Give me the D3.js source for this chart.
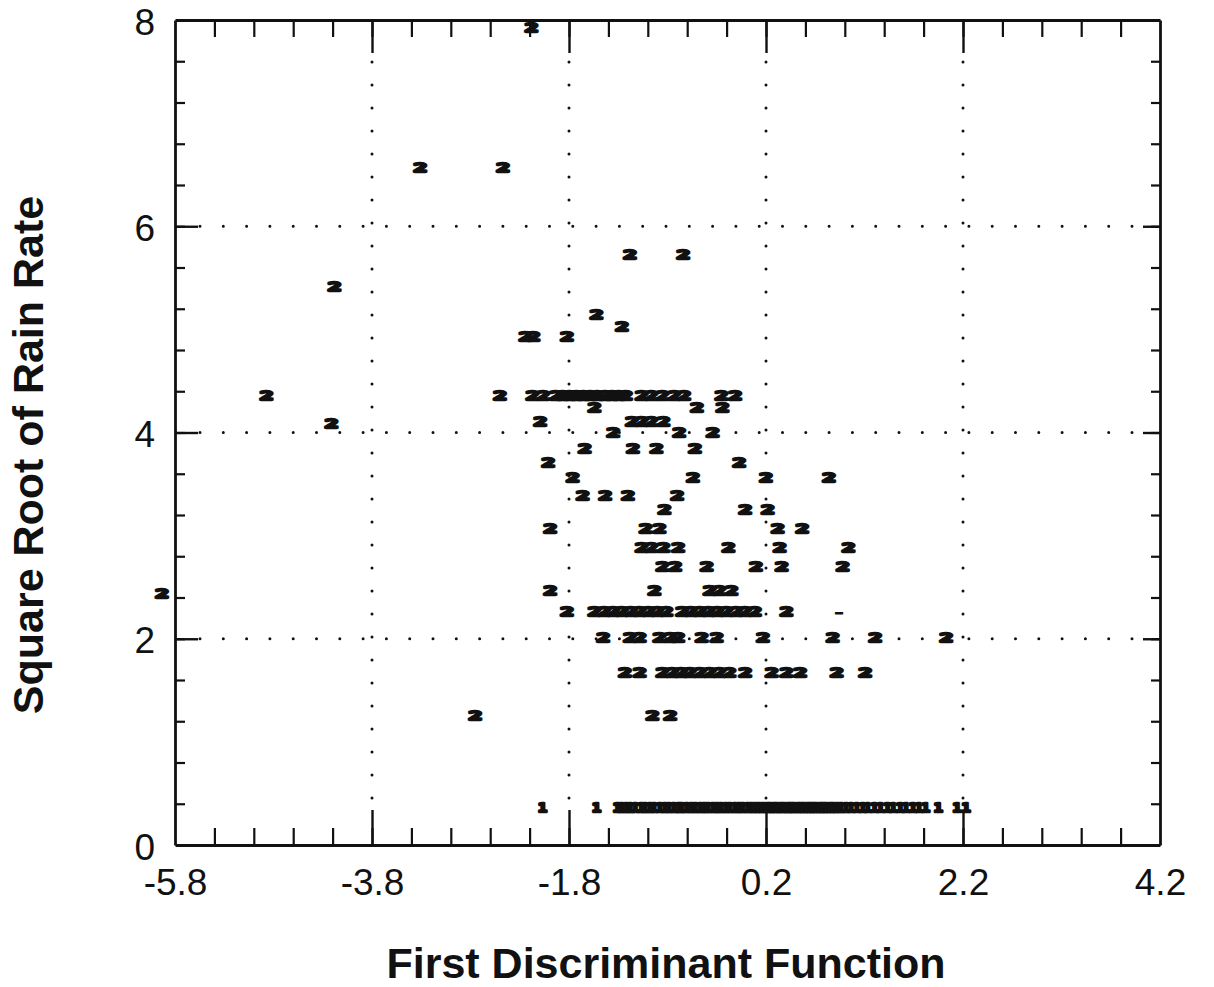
<!DOCTYPE html>
<html>
<head>
<meta charset="utf-8">
<script src="https://cdn.jsdelivr.net/npm/d3@7"></script>
<style>
  html, body { margin: 0; padding: 0; background: #fff; }
  svg { display: block; }
</style>
</head>
<body>
<svg id="chart" width="1214" height="987"></svg>
<script>
// ---------------- data ----------------
const xTickValues = [-5.8, -3.8, -1.8, 0.2, 2.2, 4.2];
const xTickLabels = ["-5.8", "-3.8", "-1.8", "0.2", "2.2", "4.2"];
const yTickValues = [0, 2, 4, 6, 8];
const yTickLabels = ["0", "2", "4", "6", "8"];
const xGridValues = [-3.8, -1.8, 0.2, 2.2];
const yGridValues = [2, 4, 6];
const xTitle = "First Discriminant Function";
const yTitle = "Square Root of Rain Rate";

// group "2" points: [first discriminant, sqrt rain rate]
const group2 = [
  [-2.18, 7.93],
  [-3.31, 6.57], [-2.47, 6.57],
  [-1.18, 5.73], [-0.64, 5.73],
  [-4.18, 5.42],
  [-1.52, 5.14],
  [-1.26, 5.03],
  [-2.24, 4.93], [-2.16, 4.93], [-1.82, 4.93],
  [-4.87, 4.36], [-2.50, 4.36], [-2.17, 4.36], [-2.06, 4.36], [-1.93, 4.36], [-1.86, 4.36],
  [-1.79, 4.36], [-1.72, 4.36], [-1.65, 4.36], [-1.58, 4.36], [-1.51, 4.36], [-1.43, 4.36],
  [-1.36, 4.36], [-1.29, 4.36], [-1.22, 4.36], [-1.06, 4.36], [-0.96, 4.36], [-0.85, 4.36],
  [-0.73, 4.36], [-0.63, 4.36], [-0.25, 4.36], [-0.11, 4.36],
  [-1.54, 4.24], [-0.50, 4.24], [-0.24, 4.24],
  [-2.09, 4.11], [-1.16, 4.11], [-1.06, 4.11], [-0.96, 4.11], [-0.84, 4.11],
  [-4.21, 4.09],
  [-1.35, 4.00], [-0.68, 4.00], [-0.34, 4.00],
  [-1.64, 3.85], [-1.15, 3.85], [-0.91, 3.85], [-0.52, 3.85],
  [-2.01, 3.71], [-0.07, 3.71],
  [-1.76, 3.56], [-0.54, 3.56], [0.20, 3.56], [0.84, 3.56],
  [-1.66, 3.39], [-1.43, 3.39], [-1.20, 3.39], [-0.70, 3.39],
  [-0.83, 3.25], [-0.01, 3.25], [0.22, 3.25],
  [-1.99, 3.07], [-1.02, 3.07], [-0.88, 3.07], [0.32, 3.07], [0.57, 3.07],
  [-1.06, 2.89], [-0.96, 2.89], [-0.84, 2.89], [-0.69, 2.89], [-0.18, 2.89], [0.34, 2.89], [1.04, 2.89],
  [-0.85, 2.70], [-0.72, 2.70], [-0.40, 2.70], [0.10, 2.70], [0.36, 2.70], [0.98, 2.70],
  [-1.99, 2.47], [-0.93, 2.47], [-0.37, 2.47], [-0.27, 2.47], [-0.15, 2.47],
  [-5.93, 2.44],
  [-1.82, 2.26], [-1.54, 2.26], [-1.44, 2.26], [-1.35, 2.26], [-1.26, 2.26], [-1.17, 2.26],
  [-1.08, 2.26], [-0.99, 2.26], [-0.90, 2.26], [-0.81, 2.26], [-0.65, 2.26], [-0.56, 2.26],
  [-0.47, 2.26], [-0.38, 2.26], [-0.29, 2.26], [-0.20, 2.26], [-0.10, 2.26], [-0.01, 2.26],
  [0.09, 2.26], [0.41, 2.26],
  [-1.45, 2.01], [-1.18, 2.01], [-1.08, 2.01], [-0.88, 2.01], [-0.77, 2.01], [-0.69, 2.01],
  [-0.45, 2.01], [-0.30, 2.01], [0.17, 2.01], [0.88, 2.01], [1.31, 2.01], [2.03, 2.01],
  [-1.23, 1.67], [-1.08, 1.67], [-0.85, 1.67], [-0.75, 1.67], [-0.66, 1.67], [-0.57, 1.67],
  [-0.47, 1.67], [-0.37, 1.67], [-0.27, 1.67], [-0.17, 1.67], [-0.01, 1.67], [0.26, 1.67],
  [0.41, 1.67], [0.55, 1.67], [0.92, 1.67], [1.21, 1.67],
  [-2.75, 1.26], [-0.95, 1.26], [-0.77, 1.26]
];

// group "1" points (all at the same rain-rate level)
const group1Y = 0.36;
const group1X = [
  -2.07, -1.52,
  -1.31, -1.27, -1.22, -1.18, -1.13, -1.07, -1.03, -0.98, -0.94, -0.88, -0.83, -0.79,
  -0.74, -0.69, -0.66, -0.61, -0.56, -0.52, -0.47, -0.43, -0.39, -0.34, -0.30, -0.26,
  -0.21, -0.17, -0.12, -0.08, -0.04, 0.01, 0.05, 0.09, 0.13, 0.17, 0.21, 0.24, 0.28,
  0.31, 0.35, 0.38, 0.42, 0.45, 0.48, 0.52, 0.55, 0.58, 0.62, 0.65, 0.68, 0.71, 0.75,
  0.78, 0.81, 0.85, 0.88, 0.92, 0.96, 1.01, 1.06, 1.12, 1.18, 1.23, 1.30, 1.36, 1.43,
  1.49, 1.56, 1.62, 1.69, 1.75, 1.82, 1.95, 2.14, 2.23
];

// stray dash mark
const dashMarks = [[0.94, 2.26]];

// ---------------- chart ----------------
const svg = d3.select("#chart");
const INK = "#111";

const x = d3.scaleLinear().domain([-5.8, 4.2]).range([175, 1160]);
const y = d3.scaleLinear().domain([0, 8]).range([845, 20]);

const xMinor = d3.range(1, 25).map(i => +(-5.8 + i * 0.4).toFixed(2));
const yMinor = d3.range(1, 20).map(i => +(i * 0.4).toFixed(2));

// dotted grid
const grid = svg.append("g").attr("stroke", INK).attr("stroke-linecap", "round").attr("stroke-width", 3);
grid.selectAll("line.v").data(xGridValues).join("line").attr("class", "v")
  .attr("x1", d => x(d)).attr("x2", d => x(d))
  .attr("y1", y(8) + 42).attr("y2", y(0) - 35)
  .attr("stroke-dasharray", "0 23");
grid.selectAll("line.h").data(yGridValues).join("line").attr("class", "h")
  .attr("y1", d => y(d)).attr("y2", d => y(d))
  .attr("x1", x(-5.8) + 25).attr("x2", x(4.2) - 18)
  .attr("stroke-dasharray", "0 23.3");

function styleAxis(g, width) {
  g.selectAll("path.domain").attr("stroke", INK).attr("stroke-width", 2.8);
  g.selectAll(".tick line").attr("stroke", INK).attr("stroke-width", width);
}

// frame + minor ticks
svg.append("g").attr("transform", `translate(0,${y(0)})`)
  .call(d3.axisBottom(x).tickValues(xMinor).tickSize(-17).tickSizeOuter(0).tickFormat(""))
  .call(g => styleAxis(g, 2.2));
svg.append("g").attr("transform", `translate(0,${y(8)})`)
  .call(d3.axisTop(x).tickValues(xMinor).tickSize(-17).tickSizeOuter(0).tickFormat(""))
  .call(g => styleAxis(g, 2.2));
svg.append("g").attr("transform", `translate(${x(-5.8)},0)`)
  .call(d3.axisLeft(y).tickValues(yMinor).tickSize(-10).tickSizeOuter(0).tickFormat(""))
  .call(g => styleAxis(g, 2.2));
svg.append("g").attr("transform", `translate(${x(4.2)},0)`)
  .call(d3.axisRight(y).tickValues(yMinor).tickSize(-9).tickSizeOuter(0).tickFormat(""))
  .call(g => styleAxis(g, 2.2));

// major ticks
function majors(g) { g.select("path.domain").remove(); g.selectAll(".tick line").attr("stroke", INK).attr("stroke-width", 2.4); }
svg.append("g").attr("transform", `translate(0,${y(0)})`)
  .call(d3.axisBottom(x).tickValues(xGridValues).tickSize(-35).tickFormat("")).call(majors);
svg.append("g").attr("transform", `translate(0,${y(8)})`)
  .call(d3.axisTop(x).tickValues(xGridValues).tickSize(-33).tickFormat("")).call(majors);
svg.append("g").attr("transform", `translate(${x(-5.8)},0)`)
  .call(d3.axisLeft(y).tickValues(yGridValues).tickSize(-23).tickFormat("")).call(majors);
svg.append("g").attr("transform", `translate(${x(4.2)},0)`)
  .call(d3.axisRight(y).tickValues(yGridValues).tickSize(-17).tickFormat("")).call(majors);

// tick labels
const labelFont = '37px "Liberation Sans", Arial, sans-serif';
svg.append("g").attr("transform", `translate(0,${y(0)})`)
  .call(d3.axisBottom(x).tickValues(xTickValues).tickSize(0).tickPadding(24)
    .tickFormat((d, i) => xTickLabels[i]))
  .call(g => {
    g.select("path.domain").remove();
    g.selectAll("text").style("font", labelFont).attr("fill", INK);
  });
svg.append("g").attr("transform", `translate(${x(-5.8)},0)`)
  .call(d3.axisLeft(y).tickValues(yTickValues).tickSize(0).tickPadding(20)
    .tickFormat((d, i) => yTickLabels[i]))
  .call(g => {
    g.select("path.domain").remove();
    g.selectAll("text").style("font", labelFont).attr("fill", INK).attr("dy", "0.38em");
  });

// axis titles
svg.append("text")
  .attr("x", 666).attr("y", 978)
  .attr("text-anchor", "middle")
  .style("font", 'bold 43px "Liberation Sans", Arial, sans-serif')
  .attr("fill", INK)
  .text(xTitle);
svg.append("text")
  .attr("transform", "translate(43,455) rotate(-90)")
  .attr("text-anchor", "middle")
  .style("font", 'bold 43px "Liberation Sans", Arial, sans-serif')
  .attr("fill", INK)
  .text(yTitle);

// marks
const marks = svg.append("g");
marks.selectAll("text.g2").data(group2).join("text").attr("class", "g2")
  .attr("transform", d => `translate(${x(d[0])},${y(d[1])}) scale(1.9,1.05)`)
  .attr("text-anchor", "middle").attr("dy", "0.36em")
  .style("font", 'bold 12px "DejaVu Sans Mono", monospace')
  .attr("fill", INK).attr("stroke", INK).attr("stroke-width", 2.2)
  .attr("stroke-linejoin", "round")
  .text("2");

marks.selectAll("text.g1").data(group1X).join("text").attr("class", "g1")
  .attr("transform", d => `translate(${x(d)},${y(group1Y)}) scale(1.5,1.25)`)
  .attr("text-anchor", "middle").attr("dy", "0.36em")
  .style("font", 'bold 10px "DejaVu Sans Mono", monospace')
  .attr("fill", INK).attr("stroke", INK).attr("stroke-width", 2)
  .attr("stroke-linejoin", "round")
  .text("1");

marks.selectAll("text.dash").data(dashMarks).join("text").attr("class", "dash")
  .attr("transform", d => `translate(${x(d[0])},${y(d[1])}) scale(2,1)`)
  .attr("text-anchor", "middle").attr("dy", "0.36em")
  .style("font", 'bold 10px "DejaVu Sans Mono", monospace')
  .attr("fill", INK).attr("stroke", INK).attr("stroke-width", 1)
  .text("-");
</script>
</body>
</html>
